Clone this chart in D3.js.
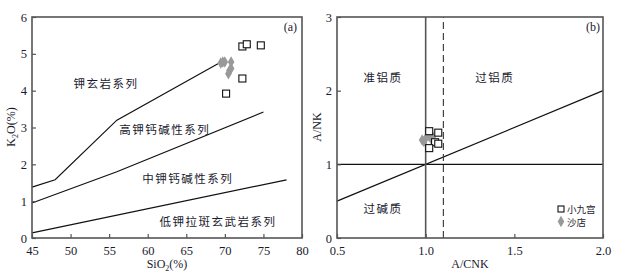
<!DOCTYPE html>
<html>
<head>
<meta charset="utf-8">
<script src="https://cdn.jsdelivr.net/npm/d3@7"></script>
<style>
  body { margin: 0; background: #fff; }
  svg text { font-family: "Liberation Serif", "Times New Roman", serif; fill: #1a1a2e; }
  svg text.cn { font-family: "Noto Sans CJK SC", sans-serif; }
</style>
</head>
<body>
<svg id="chart" width="627" height="273"></svg>
<script>

// Data
// ----

// (a) SiO2 - K2O
var siTicks = [45, 50, 55, 60, 65, 70, 75, 80];
var kTicks = [0, 1, 2, 3, 4, 5, 6];
var shoshoniteLine = [[45, 1.38], [48, 1.58], [56, 3.2], [69.1, 4.73]];
var highKLine = [[45, 0.95], [56, 1.8], [75, 3.42]];
var lowKLine = [[45, 0.14], [78, 1.58]];
var seriesLabels = [
  {text: "钾玄岩系列", si: 54.6, k: 4.2},
  {text: "高钾钙碱性系列", si: 62.2, k: 2.97},
  {text: "中钾钙碱性系列", si: 65.2, k: 1.64},
  {text: "低钾拉斑玄武岩系列", si: 69.1, k: 0.47}
];
var xjgSiK = [[72.27, 5.2], [72.84, 5.26], [74.66, 5.23], [72.27, 4.33], [70.16, 3.92]];
var sdSiK = [[69.47, 4.75], [69.73, 4.78], [69.99, 4.78], [70.81, 4.78], [70.81, 4.6], [70.6, 4.55], [70.46, 4.46]];

// (b) A/CNK - A/NK
var cnkTicks = [0.5, 1.0, 1.5, 2.0];
var nkTicks = [0, 1, 2, 3];
var fieldLabels = [
  {text: "准铝质", cnk: 0.76, nk: 2.18},
  {text: "过铝质", cnk: 1.39, nk: 2.18},
  {text: "过碱质", cnk: 0.76, nk: 0.41}
];
var xjgCnkNk = [[1.02, 1.45], [1.071, 1.43], [1.053, 1.3], [1.071, 1.28], [1.02, 1.22]];
var sdCnkNk = [[0.98, 1.33], [0.99, 1.31], [1.0, 1.35], [1.02, 1.38], [1.03, 1.4], [1.03, 1.35], [1.04, 1.37]];
var legendNames = ["小九宫", "沙店"];

var svg = d3.select("#chart");
var frameColor = "#555";
var diamond = d3.symbol().type(d3.symbolDiamond).size(38);

// Shared helpers
// --------------

function frame(g, x, y) {
  var r = x.range(), b = y.range();
  g.append("rect")
    .attr("x", r[0]).attr("y", b[1])
    .attr("width", r[1] - r[0]).attr("height", b[0] - b[1])
    .attr("fill", "none")
    .attr("stroke", frameColor)
    .attr("stroke-width", 1.6);
}

function axes(g, x, y, xTicks, yTicks, xFmt, yFmt) {
  var xa = g.append("g")
    .attr("transform", "translate(0," + y.range()[0] + ")")
    .call(d3.axisBottom(x).tickValues(xTicks).tickSize(-4).tickPadding(8).tickFormat(xFmt));
  var ya = g.append("g")
    .attr("transform", "translate(" + x.range()[0] + ",0)")
    .call(d3.axisLeft(y).tickValues(yTicks).tickSize(-4).tickPadding(5).tickFormat(yFmt));
  [xa, ya].forEach(function (a) {
    a.select(".domain").remove();
    a.selectAll("line").attr("stroke", frameColor).attr("stroke-width", 1.2);
    a.selectAll("text").attr("font-size", 12.5)
      .style("font-family", "'Liberation Serif', serif").attr("fill", "#1a1a2e");
  });
}

function squares(g, x, y, pts) {
  g.selectAll(null).data(pts).enter()
    .append("rect")
    .attr("x", function (d) { return x(d[0]) - 3.5; })
    .attr("y", function (d) { return y(d[1]) - 3.5; })
    .attr("width", 7).attr("height", 7)
    .attr("fill", "#fff").attr("stroke", "#111").attr("stroke-width", 1.1);
}

function diamonds(g, x, y, pts) {
  g.selectAll(null).data(pts).enter()
    .append("path")
    .attr("d", diamond)
    .attr("transform", function (d) { return "translate(" + x(d[0]) + "," + y(d[1]) + ")"; })
    .attr("fill", "#999");
}

// Chart (a)
// ---------

var xa = d3.scaleLinear().domain([45, 80]).range([32, 302]);
var ya = d3.scaleLinear().domain([0, 6]).range([238, 17]);
var ga = svg.append("g");

var line = d3.line()
  .x(function (d) { return xa(d[0]); })
  .y(function (d) { return ya(d[1]); });

[shoshoniteLine, highKLine, lowKLine].forEach(function (l) {
  ga.append("path").attr("d", line(l))
    .attr("fill", "none").attr("stroke", "#111").attr("stroke-width", 1.2);
});

ga.selectAll(".series").data(seriesLabels).enter()
  .append("text")
  .attr("class", "cn")
  .attr("x", function (d) { return xa(d.si); })
  .attr("y", function (d) { return ya(d.k); })
  .attr("text-anchor", "middle")
  .attr("dominant-baseline", "central")
  .attr("font-size", 11.5)
  .attr("letter-spacing", 1.5)
  .text(function (d) { return d.text; });

diamonds(ga, xa, ya, sdSiK);
squares(ga, xa, ya, xjgSiK);
frame(ga, xa, ya);
axes(ga, xa, ya, siTicks, kTicks, d3.format("d"), d3.format("d"));

ga.append("text").attr("x", 297).attr("y", 31).attr("text-anchor", "end")
  .attr("font-size", 12).text("(a)");

var sio2 = ga.append("text").attr("x", 167).attr("y", 268).attr("text-anchor", "middle").attr("font-size", 12);
sio2.append("tspan").text("SiO");
sio2.append("tspan").attr("font-size", 8).attr("dy", 3).text("2");
sio2.append("tspan").attr("dy", -3).text("(%)");

var k2o = ga.append("text").attr("transform", "translate(15,127) rotate(-90)")
  .attr("text-anchor", "middle").attr("font-size", 12);
k2o.append("tspan").text("K");
k2o.append("tspan").attr("font-size", 8).attr("dy", 3).text("2");
k2o.append("tspan").attr("dy", -3).text("O(%)");

// Chart (b)
// ---------

var xb = d3.scaleLinear().domain([0.5, 2.0]).range([337, 603]);
var yb = d3.scaleLinear().domain([0, 3]).range([238, 17]);
var gb = svg.append("g");

// Boundaries
gb.append("line")
  .attr("x1", xb(0.5)).attr("y1", yb(0.5)).attr("x2", xb(2.0)).attr("y2", yb(2.0))
  .attr("stroke", "#111").attr("stroke-width", 1.2);
gb.append("line")
  .attr("x1", xb(0.5)).attr("y1", yb(1)).attr("x2", xb(2.0)).attr("y2", yb(1))
  .attr("stroke", "#111").attr("stroke-width", 1.2);
gb.append("line")
  .attr("x1", xb(1.0)).attr("y1", yb(0)).attr("x2", xb(1.0)).attr("y2", yb(3))
  .attr("stroke", "#555").attr("stroke-width", 1.6);
gb.append("line")
  .attr("x1", xb(1.1)).attr("y1", yb(0)).attr("x2", xb(1.1)).attr("y2", yb(3))
  .attr("stroke", "#444").attr("stroke-width", 1.2)
  .attr("stroke-dasharray", "7,4");

gb.selectAll(".field").data(fieldLabels).enter()
  .append("text")
  .attr("class", "cn")
  .attr("x", function (d) { return xb(d.cnk); })
  .attr("y", function (d) { return yb(d.nk); })
  .attr("text-anchor", "middle")
  .attr("dominant-baseline", "central")
  .attr("font-size", 11.5)
  .attr("letter-spacing", 1.5)
  .text(function (d) { return d.text; });

diamonds(gb, xb, yb, sdCnkNk);
squares(gb, xb, yb, xjgCnkNk);
frame(gb, xb, yb);
axes(gb, xb, yb, cnkTicks, nkTicks, d3.format(".1f"), d3.format("d"));

gb.append("text").attr("x", 600).attr("y", 31).attr("text-anchor", "end")
  .attr("font-size", 12).text("(b)");
gb.append("text").attr("x", 470).attr("y", 268).attr("text-anchor", "middle")
  .attr("font-size", 12).text("A/CNK");
gb.append("text").attr("transform", "translate(321,127) rotate(-90)")
  .attr("text-anchor", "middle").attr("font-size", 12).text("A/NK");

// Legend
// ------
var legend = gb.append("g").attr("transform", "translate(561,209)");
legend.append("rect").attr("x", -3).attr("y", -3).attr("width", 6).attr("height", 6)
  .attr("fill", "#fff").attr("stroke", "#111").attr("stroke-width", 1.1);
legend.append("path").attr("d", diamond).attr("transform", "translate(0,12.5)").attr("fill", "#999");
legend.selectAll(".lg").data(legendNames).enter()
  .append("text")
  .attr("class", "cn")
  .attr("x", 6)
  .attr("y", function (d, i) { return i * 12.5; })
  .attr("dominant-baseline", "central")
  .attr("font-size", 9.5)
  .text(function (d) { return d; });

</script>
</body>
</html>
